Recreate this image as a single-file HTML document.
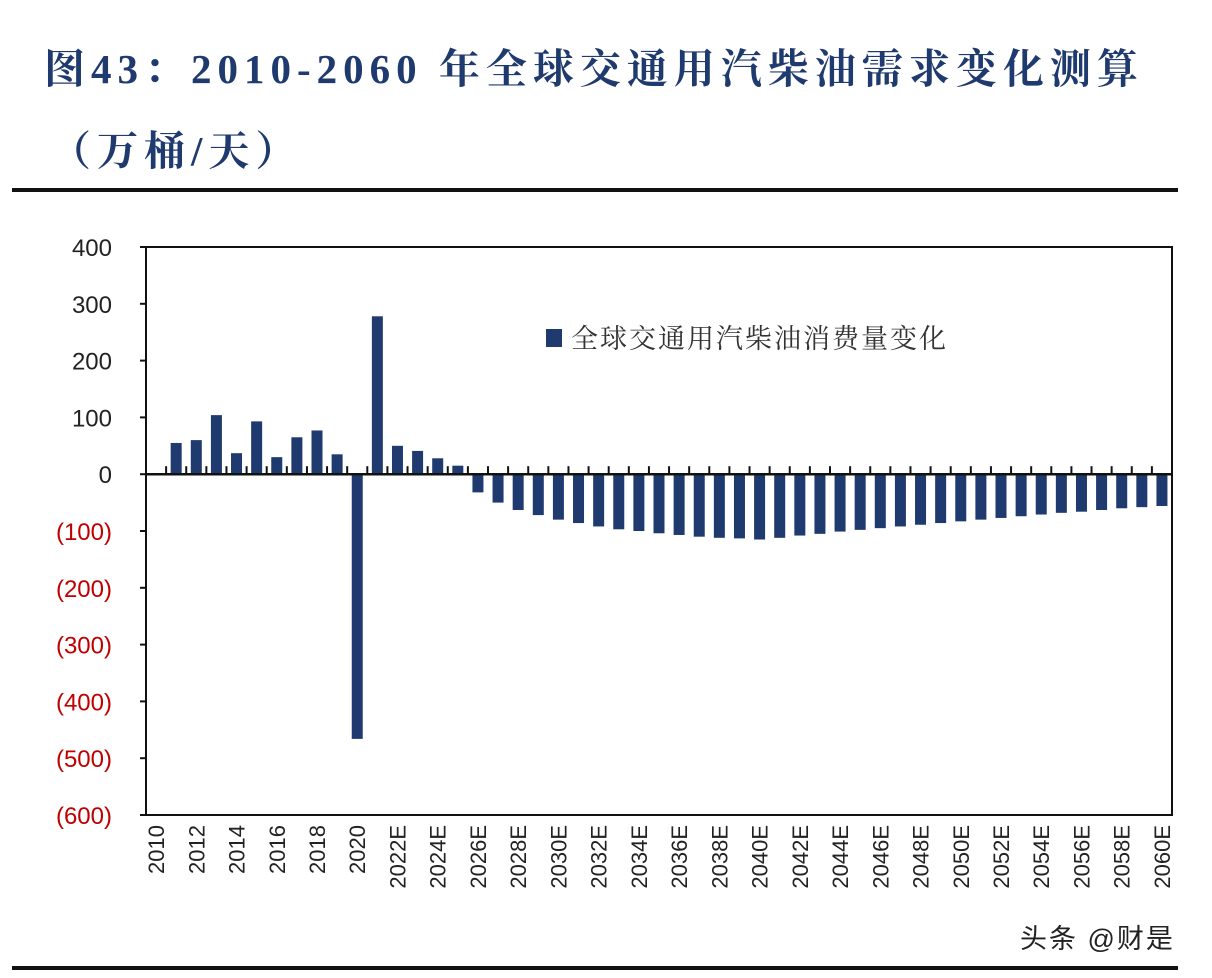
<!DOCTYPE html>
<html><head><meta charset="utf-8">
<style>
html,body{margin:0;padding:0;background:#fff;}
body{width:1212px;height:978px;position:relative;overflow:hidden;font-family:"Liberation Sans","Noto Sans CJK SC",sans-serif;}
.title{position:absolute;left:44px;font-family:"Liberation Serif","Noto Serif CJK SC",serif;font-weight:bold;color:#1f3a6e;font-size:41px;letter-spacing:6px;white-space:nowrap;}
</style></head><body>
<div class="title" style="top:36px;">图43：2010-2060 年全球交通用汽柴油需求变化测算</div>
<div class="title" style="top:118px;left:50px;">（万桶/天）</div>
<div style="position:absolute;left:12px;top:188px;width:1166px;height:4px;background:#111;"></div>
<div style="position:absolute;left:12px;top:966px;width:1166px;height:4px;background:#111;"></div>
<svg id="chart" width="1212" height="978" style="position:absolute;left:0;top:0;"></svg>
<div style="position:absolute;left:1020px;top:917px;font-size:27px;letter-spacing:2px;color:#222;">头条 @财是</div>
<script>
const years = [];
for (let y = 2010; y <= 2060; y++) years.push(y);
const labels = years.map(y => y >= 2022 ? y + 'E' : String(y));
const values = [0,55,60,104,37,93,30,65,77,35,-466,278,50,41,28,15,
-32,-50,-63,-72,-80,-86,-92,-97,-100,-104,-107,-110,-112,-113,-115,
-112,-108,-105,-101,-98,-95,-92,-89,-86,-83,-80,-77,-74,-71,-68,-66,-63,-60,-58,-56];
const yTicks = [400,300,200,100,0,-100,-200,-300,-400,-500,-600];
const seriesName = '全球交通用汽柴油消费量变化';

const NS='http://www.w3.org/2000/svg';
const svg=document.getElementById('chart');
const L=146,R=1172,T=247,B=815,yMax=400,yMin=-600;
const yS=v=>T+(yMax-v)/(yMax-yMin)*(B-T);
const band=(R-L)/years.length;
const xS=i=>L+band*i;
function mk(tag,attrs){const e=document.createElementNS(NS,tag);for(const k in attrs)e.setAttribute(k,attrs[k]);svg.appendChild(e);return e;}
const frame=mk('rect',{x:L,y:T,width:R-L,height:B-T,fill:'none',stroke:'#111','stroke-width':2});


yTicks.forEach(v=>{
  const y=yS(v);
  const tk=mk('line',{x1:L-6,x2:L,y1:y,y2:y,stroke:'#111','stroke-width':2});
  
  
  const t=mk('text',{x:112,y:y+9,'text-anchor':'end','font-size':24,fill:v<0?'#c00000':'#222','font-family':'Liberation Sans, sans-serif'});
  t.textContent=v<0?'('+(-v)+')':String(v);
  
  
});
const z=yS(0);
values.forEach((v,i)=>{
  const cx=xS(i)+band/2;
  const y1=yS(Math.max(v,0)),y2=yS(Math.min(v,0));
  if(v!==0){
    const b=mk('rect',{x:cx-5.5,y:y1,width:11,height:y2-y1,fill:'#1f3a6e'});
    
    
  }
  const tk=mk('line',{x1:xS(i+1),x2:xS(i+1),y1:z-8,y2:z,stroke:'#111','stroke-width':2});
  
  
  if(i%2===0){
    const t=mk('text',{x:0,y:0,'text-anchor':'end','font-size':22,fill:'#222','font-family':'Liberation Sans, sans-serif',transform:'translate('+(cx+8)+','+(B+10)+') rotate(-90)'});
    t.textContent=labels[i];
    
    
  }
});
const zl=mk('line',{x1:L,x2:R,y1:z,y2:z,stroke:'#111','stroke-width':2.5});


const lg=mk('rect',{x:546,y:329,width:16,height:18,fill:'#1f3a6e'});


const lt=mk('text',{x:571,y:348,'font-size':27,'letter-spacing':2,fill:'#333','font-family':'Liberation Serif, Noto Serif CJK SC, serif'});
lt.textContent=seriesName;


</script>
</body></html>
